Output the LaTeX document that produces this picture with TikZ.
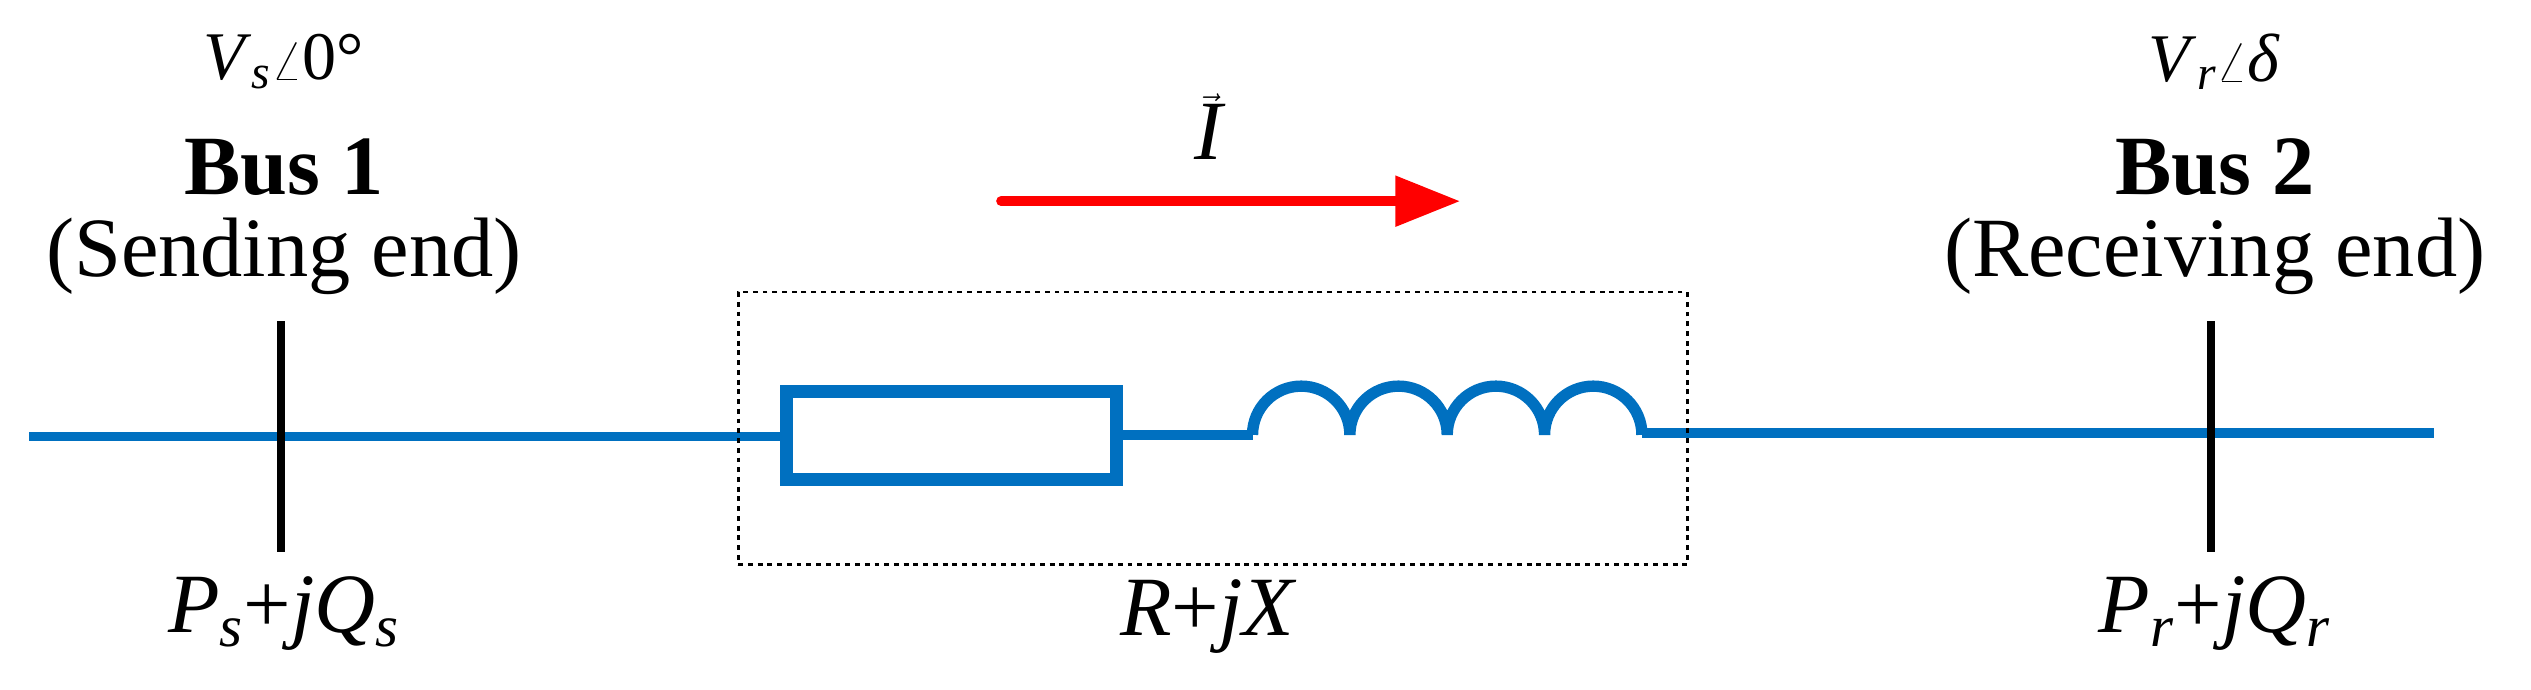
\documentclass[tikz,border=0pt]{standalone}
\usepackage{fontspec}
\setmainfont{Liberation Serif}
\usetikzlibrary{arrows.meta}
\definecolor{lblue}{RGB}{0,112,192}
\begin{document}
\begin{tikzpicture}[x=1pt,y=-1pt,
  wire/.style={lblue,line width=6pt},
  busbar/.style={black,line width=5pt},
  lab/.style={font=\fontsize{52}{56}\selectfont,inner sep=0pt},
  small/.style={font=\fontsize{42}{46}\selectfont,inner sep=0pt}]
\useasboundingbox (0,0) rectangle (1560,425);
\coordinate (L0) at (18,269);
\coordinate (L1) at (483,269);
\coordinate (R0) at (690,268);
\coordinate (I0) at (772,268);
\coordinate (I1) at (1012,267);
\coordinate (E) at (1500,267);
\draw[wire] (L0) -- (L1);
\draw[wire] (R0) -- (I0);
\draw[wire] (I1) -- (E);
\node[draw=lblue,line width=8pt,minimum width=203pt,minimum height=54pt,inner sep=0pt] (res) at (586.5,268.5) {};
\draw[wire,line width=7pt] (I0) arc[start angle=180,end angle=360,radius=30]
  arc[start angle=180,end angle=360,radius=30]
  arc[start angle=180,end angle=360,radius=30]
  arc[start angle=180,end angle=360,radius=30];
\node[draw,dashed,line width=1.8pt,minimum width=585pt,minimum height=168pt,inner sep=0pt] (box) at (747.5,264) {};
\coordinate (b1t) at (173,198); \coordinate (b1b) at (173,340);
\coordinate (b2t) at (1363,198); \coordinate (b2b) at (1363,340);
\draw[busbar] (b1t) -- (b1b);
\draw[busbar] (b2t) -- (b2b);
\node[small] (vs) at (175,38) {\textit{V}\textsubscript{\textit{s}}$\angle$0°};
\node[lab] (bus1) at (175,103) {\textbf{Bus 1}};
\node[lab] (se) at (175,158) {(Sending end)};
\node[lab] (ps) at (175,378) {\textit{P}\textsubscript{\textit{s}}+\textit{jQ}\textsubscript{\textit{s}}};
\node[small] (vr) at (1365,38) {\textit{V}\textsubscript{\textit{r}}$\angle$\textit{δ}};
\node[lab] (bus2) at (1365,103) {\textbf{Bus 2}};
\node[lab] (re) at (1365,158) {(Receiving end)};
\node[lab] (pr) at (1365,378) {\textit{P}\textsubscript{\textit{r}}+\textit{jQ}\textsubscript{\textit{r}}};
\node[lab] (rx) at (745,380) {\textit{R}+\textit{jX}};
\node[lab] (cur) at (745,78) {$\vec{\textit{I}}$};
\coordinate (a0) at (617,124); \coordinate (a1) at (900,124);
\draw[red,line width=6pt,line cap=round,-{Triangle[length=40pt,width=30pt]}] (a0) -- (a1);
\end{tikzpicture}
\end{document}
